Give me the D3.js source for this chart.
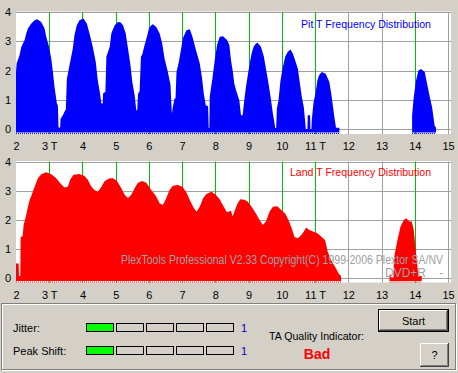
<!DOCTYPE html>
<html><head><meta charset="utf-8">
<script src="https://cdn.jsdelivr.net/npm/d3@7"></script>
<style>
body{margin:0;background:#d4d0c8;overflow:hidden}
svg{display:block;font-family:"Liberation Sans",Arial,sans-serif;}
</style>
</head><body>
<svg id="c" width="458" height="373"></svg>
<script>
// ---------- data ----------
const xTickValues = [2,3,4,5,6,7,8,9,10,11,12,13,14,15];
const xTickLabels = ["2","3 T","4","5","6","7","8","9","10","11 T","12","13","14","15"];
const yTickValues = [0,1,2,3,4];
const greenTicks = [3,4,5,6,7,8,9,10,11,14];

const pitT = [2.00,2.02,2.10,2.16,2.26,2.31,2.36,2.46,2.56,2.64,2.76,2.86,2.91,2.99,3.06,3.11,3.16,3.23,3.26,3.28,3.33,
  3.34,3.41,3.48,3.50,3.53,3.61,3.71,3.76,3.83,3.91,4.03,4.13,4.21,4.31,4.40,4.46,4.52,4.57,4.61,
  4.62,4.69,4.72,4.82,4.87,4.97,5.07,5.14,5.22,5.30,5.37,5.44,5.50,5.57,5.62,5.65,
  5.67,5.72,5.76,5.80,5.87,5.94,6.00,6.07,6.12,6.22,6.32,6.40,6.47,6.57,6.65,6.69,
  6.72,6.77,6.80,6.83,6.90,6.98,7.02,7.13,7.23,7.31,7.43,7.53,7.60,7.65,7.71,7.78,7.80,7.82,
  7.83,7.91,7.98,8.05,8.13,8.23,8.35,8.42,8.47,8.52,8.57,8.62,8.72,8.77,
  8.82,8.87,8.92,8.99,9.05,9.09,9.15,9.22,9.27,9.37,9.46,9.52,9.60,9.66,9.73,9.78,9.80,9.83,
  9.85,9.90,9.96,10.03,10.10,10.18,10.26,10.33,10.40,10.48,10.53,10.60,10.66,10.70,10.72,10.77,10.78,10.85,10.86,10.89,
  10.90,10.95,11.02,11.07,11.12,11.20,11.32,11.43,11.50,11.58,11.63,11.73,
  11.80,13.85,
  13.92,13.97,14.04,14.11,14.19,14.30,14.36,14.45,14.52,14.60,14.64];
const pitV = [1.95,2.25,2.50,2.80,3.04,3.27,3.44,3.61,3.72,3.75,3.66,3.44,3.15,2.83,2.41,1.95,1.44,0.87,0.80,0.05,0.05,
  0.35,0.47,0.64,0.66,1.70,2.18,2.75,3.21,3.55,3.72,3.78,3.61,3.27,2.81,2.29,1.67,1.27,0.87,0.87,
  1.21,1.27,2.47,2.81,3.27,3.55,3.66,3.65,3.55,3.27,2.75,2.23,1.61,1.15,0.64,0.64,
  1.20,1.30,2.47,2.55,2.87,3.15,3.44,3.55,3.58,3.49,3.27,2.92,2.41,1.95,1.50,0.53,
  0.75,1.04,1.04,1.95,2.29,2.81,3.10,3.38,3.41,3.15,2.64,2.24,1.73,1.21,0.81,0.78,0.03,0.03,
  1.10,1.73,2.35,2.87,3.15,3.17,3.04,2.87,2.35,2.00,1.55,1.33,0.98,0.47,
  0.47,0.98,1.44,1.95,2.35,2.58,2.81,2.92,2.95,2.81,2.47,2.07,1.55,1.10,0.53,0.20,0.03,0.03,
  0.70,0.98,1.67,2.12,2.47,2.64,2.72,2.58,2.35,2.07,1.67,1.10,0.75,0.27,0.00,0.00,0.47,0.47,0.00,0.00,
  0.30,0.87,1.27,1.67,1.84,1.95,1.89,1.61,1.10,0.41,0.04,0.04,
  null,null,
  0.47,1.10,1.67,2.00,2.05,1.95,1.61,1.10,0.75,0.10,0.05];

const landT = [2.00,2.08,2.09,2.13,2.14,2.20,2.23,2.29,2.36,2.41,2.48,2.56,2.66,2.76,2.91,3.06,3.21,3.33,3.46,3.56,3.63,3.73,3.91,
  4.06,4.16,4.27,4.36,4.46,4.57,4.67,4.82,4.92,5.04,5.17,5.27,5.37,5.47,5.57,5.67,5.80,5.92,
  6.07,6.22,6.32,6.42,6.52,6.62,6.72,6.87,7.01,7.13,7.23,7.33,7.43,7.53,7.63,7.73,7.88,
  8.01,8.13,8.25,8.35,8.47,8.52,8.59,8.67,8.75,8.87,8.97,9.09,9.22,9.33,9.43,9.52,9.63,9.73,9.86,
  9.98,10.10,10.20,10.30,10.38,10.48,10.58,10.66,10.73,10.83,10.96,11.08,11.20,11.30,11.38,11.48,11.60,11.71,11.78,
  11.85,13.20,
  13.24,13.28,13.29,13.36,13.37,13.39,13.49,13.57,13.67,13.74,13.84,13.91,13.97,14.04,14.11,14.21];
const landV = [0.48,0.48,0.05,0.05,1.40,1.42,1.81,2.08,2.44,2.67,2.87,3.13,3.42,3.56,3.63,3.56,3.42,3.25,3.10,3.13,3.37,3.54,3.57,
  3.50,3.37,3.13,3.02,2.96,3.13,3.33,3.42,3.42,3.33,3.08,2.85,2.73,2.85,3.08,3.27,3.33,3.27,
  3.02,2.79,2.56,2.50,2.73,3.02,3.16,3.19,3.13,2.93,2.67,2.44,2.27,2.44,2.73,2.88,2.96,
  2.85,2.70,2.44,2.25,2.30,2.10,2.33,2.56,2.70,2.68,2.62,2.44,2.21,1.98,1.81,1.93,2.27,2.44,2.46,
  2.33,2.21,1.98,1.69,1.40,1.35,1.46,1.58,1.72,1.64,1.58,1.52,1.40,1.29,0.89,0.60,0.37,0.14,0.05,
  null,null,
  0.10,0.10,0.00,0.00,0.50,0.77,1.35,1.75,1.98,2.04,1.93,1.93,1.64,0.83,0.05,0.05];

const pitTitle = "Pit T Frequency Distribution";
const landTitle = "Land T Frequency Distribution";
const watermark1 = "PlexTools Professional V2.33 Copyright(C) 1999-2006 Plextor SA/NV";
const watermark2 = "DVD+R    -";
const meterLabels = ["Jitter:", "Peak Shift:"];
const meterLevels = [1, 1];
const meterValues = ["1", "1"];
const meterSegments = 5;
const qualityLabel = "TA Quality Indicator:";
const qualityValue = "Bad";

// ---------- drawing ----------
const svg = d3.select("#c");
const BG = "#d4d0c8", GRID = "#a0a0a0", GREEN = "#00c000";

function drawChart(cfg){
  const x = d3.scaleLinear().domain([2,15]).range([16,448]);
  const y = d3.scaleLinear().domain([0,4]).range([cfg.y0, cfg.y4]);
  const g = svg.append("g");
  const bottomPx = y(0) + 5;
  g.append("rect").attr("x",16).attr("y",y(4)-0.5).attr("width",435).attr("height",bottomPx-y(4)+0.5).attr("fill","#fff");
  // horizontal grid
  g.selectAll(".hg").data(yTickValues).enter().append("line")
    .attr("x1",16).attr("x2",451).attr("y1",d=>Math.round(y(d))+0.5).attr("y2",d=>Math.round(y(d))+0.5)
    .attr("stroke",GRID);
  // vertical grid
  g.selectAll(".vg").data(xTickValues.slice(1)).enter().append("line")
    .attr("x1",d=>Math.round(x(d))+0.5).attr("x2",d=>Math.round(x(d))+0.5)
    .attr("y1",y(4)).attr("y2",bottomPx)
    .attr("stroke",d=>greenTicks.includes(d)?GREEN:GRID);
  // data
  const data = cfg.T.map((t,i)=>({t, v: cfg.V[i]}));
  const area = d3.area().defined(d=>d.v!=null)
    .x(d=>x(d.t)).y0(y(0)+3.5).y1(d=>y(d.v));
  g.append("path").datum(data).attr("d",area).attr("fill",cfg.color);
  // dotted base strip under each segment
  const segs=[]; let cur=null;
  data.forEach(d=>{ if(d.v==null){cur=null;} else { if(!cur){cur=[d.t,d.t];segs.push(cur);} cur[1]=d.t; } });
  g.selectAll(".dot").data(segs).enter().append("line")
    .attr("x1",d=>x(d[0])).attr("x2",d=>x(d[1])).attr("y1",y(0)+4.5).attr("y2",y(0)+4.5)
    .attr("stroke",cfg.color).attr("stroke-dasharray","1,1");
  // y labels
  g.selectAll(".yl").data(yTickValues).enter().append("text")
    .attr("x",11).attr("y",d=>y(d)+4).attr("text-anchor","end")
    .attr("font-size","11px").attr("fill","#000").text(d=>d);
  // x labels
  const ax = d3.axisBottom(x).tickValues(xTickValues).tickFormat((d,i)=>xTickLabels[i]).tickSize(0).tickPadding(0);
  const axg = g.append("g").attr("transform",`translate(0,${cfg.labelY})`).call(ax);
  axg.select(".domain").remove();
  axg.selectAll("text").attr("font-size","11px").attr("font-family",'"Liberation Sans",Arial,sans-serif')
    .attr("fill","#000").attr("dy","0").attr("y",0);
  // title
  g.append("text").attr("x",cfg.titleX).attr("y",cfg.titleY).attr("font-size","11px")
    .attr("fill",cfg.color).attr("textLength",cfg.titleW).attr("lengthAdjust","spacingAndGlyphs").text(cfg.title);
  return {x,y,g};
}

drawChart({y0:129, y4:12, T:pitT, V:pitV, color:"#0000ff", labelY:150, title:pitTitle, titleX:301, titleY:28, titleW:130});
const land = drawChart({y0:277.5, y4:161.5, T:landT, V:landV, color:"#ff0000", labelY:299, title:landTitle, titleX:290, titleY:176, titleW:141});

// watermark
svg.append("text").attr("x",121).attr("y",264).attr("font-size","12px").attr("fill","#a0a0a0")
  .attr("textLength",322).attr("lengthAdjust","spacingAndGlyphs").text(watermark1);
svg.append("text").attr("x",385).attr("y",277).attr("font-size","12px").attr("fill","#a0a0a0")
  .attr("xml:space","preserve").style("white-space","pre").text(watermark2);

// bottom panel etched frame
svg.append("rect").attr("x",2.5).attr("y",304.5).attr("width",454).attr("height",66).attr("fill","none").attr("stroke","#fff");
svg.append("rect").attr("x",1.5).attr("y",303.5).attr("width",454).attr("height",66).attr("fill","none").attr("stroke","#808080");

const rowsY = [323, 346];
meterLabels.forEach((lab,r)=>{
  svg.append("text").attr("x",13).attr("y",rowsY[r]+8.5).attr("font-size","11px").attr("fill","#000").text(lab);
  const segs = d3.range(meterSegments);
  svg.selectAll(null).data(segs).enter().append("rect")
    .attr("x",i=>86.5+i*30).attr("y",rowsY[r]+0.5).attr("width",27).attr("height",8)
    .attr("fill",i=>i<meterLevels[r]?"#00ff00":BG).attr("stroke","#000");
  svg.append("text").attr("x",241).attr("y",rowsY[r]+8.5).attr("font-size","11px").attr("fill","#0000c0").text(meterValues[r]);
});

svg.append("text").attr("x",269).attr("y",340).attr("font-size","11px").attr("fill","#000")
  .attr("textLength",95).attr("lengthAdjust","spacingAndGlyphs").text(qualityLabel);
svg.append("text").attr("x",317).attr("y",359).attr("text-anchor","middle").attr("font-size","14px")
  .attr("font-weight","bold").attr("fill","#ff0000").text(qualityValue);

function button(x0,y0,w,h,label,isDefault,ty){
  const b = svg.append("g");
  b.append("rect").attr("x",x0).attr("y",y0).attr("width",w).attr("height",h).attr("fill",BG);
  let ox=x0, oy=y0, ow=w, oh=h;
  if(isDefault){
    b.append("rect").attr("x",x0+0.5).attr("y",y0+0.5).attr("width",w-1).attr("height",h-1).attr("fill","none").attr("stroke","#000");
    ox+=1; oy+=1; ow-=2; oh-=2;
  }
  // outer bevel
  b.append("path").attr("d",`M${ox+0.5},${oy+oh-1}V${oy+0.5}H${ox+ow-1}`).attr("stroke","#fff").attr("fill","none");
  b.append("path").attr("d",`M${ox},${oy+oh-0.5}H${ox+ow-0.5}V${oy}`).attr("stroke","#404040").attr("fill","none");
  b.append("path").attr("d",`M${ox+1},${oy+oh-1.5}H${ox+ow-1.5}V${oy+1}`).attr("stroke","#808080").attr("fill","none");
  b.append("text").attr("x",x0+w/2).attr("y",ty).attr("text-anchor","middle").attr("font-size","11px").attr("fill","#000").text(label);
}
button(378,309,71,23,"Start",true,324.5);
button(420,343,29,24,"?",false,358.5);
</script>
</body></html>
